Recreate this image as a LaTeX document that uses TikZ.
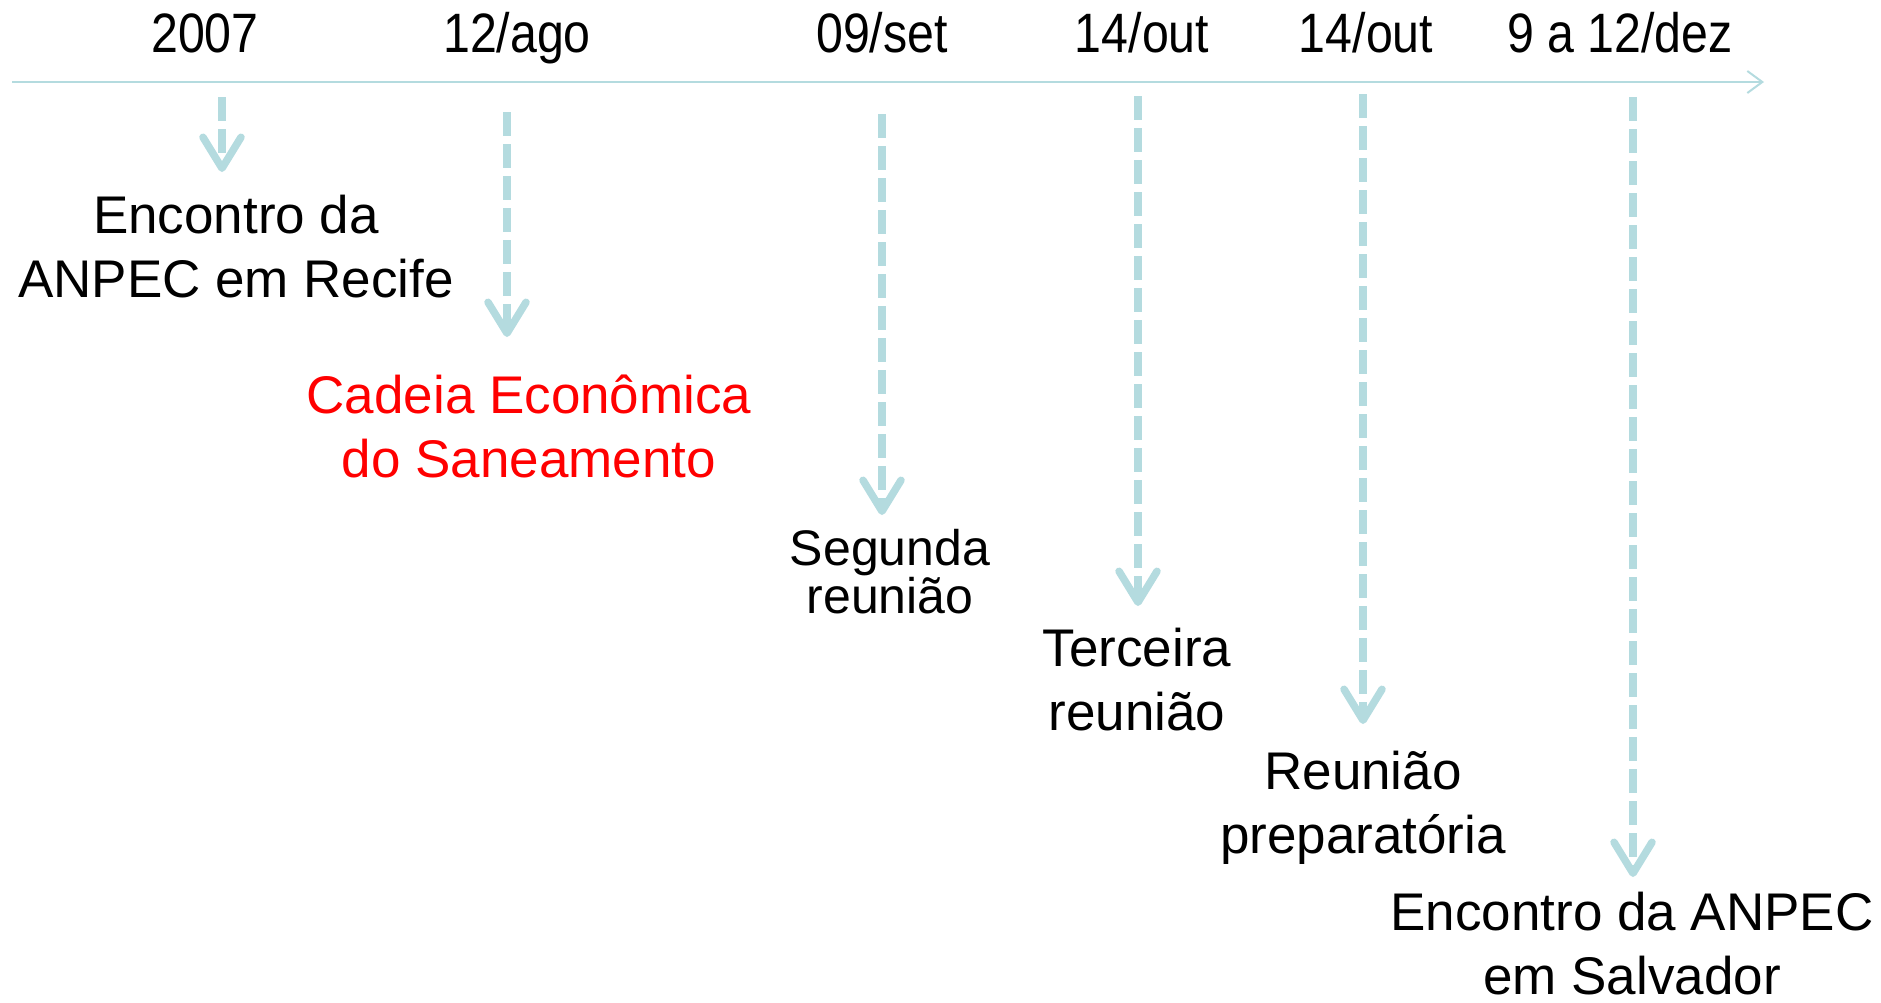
\documentclass[tikz,border=0pt]{standalone}
\usepackage{fontspec}
\setmainfont{Liberation Sans}
\newfontfamily\narrowfont[FakeStretch=0.87]{Liberation Sans}
\usetikzlibrary{arrows.meta}
\definecolor{tl}{RGB}{180,219,223}
\definecolor{evred}{RGB}{255,0,0}
\begin{document}
\begin{tikzpicture}[x=1pt,y=-1pt,
  datelbl/.style={font=\narrowfont\fontsize{55.5}{60}\selectfont, anchor=base, inner sep=0pt},
  evlbl/.style={font=\fontsize{53}{63.6}\selectfont, align=center, anchor=base, inner sep=0pt},
  evarrow/.style={draw=tl, line width=7.5pt, dash pattern=on 24pt off 8pt,
    -{Straight Barb[length=31pt,width=38pt,round]}},
  axisline/.style={draw=tl, line width=2pt, -{Straight Barb[length=15pt,width=22pt]}}]
\useasboundingbox (0,0) rectangle (1881,1002);

% time axis
\coordinate (axL) at (12,82);
\coordinate (axR) at (1764,82);
\draw[axisline] (axL) -- (axR);

% dates
\node[datelbl] (d1) at (205,52) {2007};
\node[datelbl] (d2) at (517,52) {12/ago};
\node[datelbl] (d3) at (882,52) {09/set};
\node[datelbl] (d4) at (1142,52) {14/out};
\node[datelbl] (d5) at (1366,52) {14/out};
\node[datelbl] (d6) at (1620,52) {9 a 12/dez};

% events (anchor = baseline of last line)
\node[evlbl] (e1) at (236,297) {Encontro da\\ANPEC em Recife};
\node[evlbl, text=evred] (e2) at (529,477) {Cadeia Econômica\\do Saneamento};
\node[evlbl, font=\fontsize{50}{48}\selectfont] (e3) at (890,613) {Segunda\\reunião};
\node[evlbl] (e4) at (1137,730) {Terceira\\reunião};
\node[evlbl] (e5) at (1363,853) {Reunião\\preparatória};
\node[evlbl] (e6) at (1632,994) {Encontro da ANPEC\\em Salvador};

% arrow ends
\coordinate (s1) at (222,97);   \coordinate (t1) at (222,172);
\coordinate (s2) at (507,112);  \coordinate (t2) at (507,337);
\coordinate (s3) at (882,114);  \coordinate (t3) at (882,515);
\coordinate (s4) at (1138,96);  \coordinate (t4) at (1138,606);
\coordinate (s5) at (1363,94);  \coordinate (t5) at (1363,724);
\coordinate (s6) at (1633,97);  \coordinate (t6) at (1633,877);

\foreach \i in {1,...,6} {\draw[evarrow] (s\i) -- (t\i);}
\end{tikzpicture}
\end{document}
